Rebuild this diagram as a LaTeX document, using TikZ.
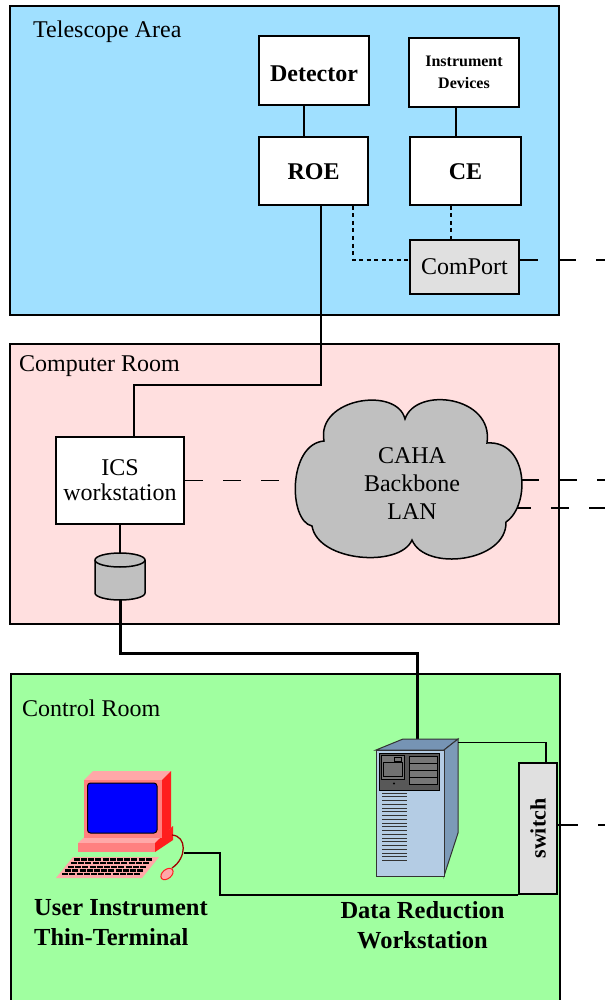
\documentclass[tikz,border=0pt]{standalone}
\usepackage{fontspec}
\setmainfont{Liberation Serif}
\usetikzlibrary{calc}

\definecolor{telblue}{RGB}{160,224,255}
\definecolor{roompink}{RGB}{255,223,223}
\definecolor{ctrlgreen}{RGB}{160,255,160}
\definecolor{portgray}{RGB}{224,224,224}
\definecolor{cloudgray}{RGB}{192,192,192}
\definecolor{srvfront}{RGB}{180,204,228}
\definecolor{srvside}{RGB}{124,154,184}
\definecolor{srvtop}{RGB}{118,148,180}
\definecolor{panel}{RGB}{88,88,88}
\definecolor{panellight}{RGB}{118,118,118}
\definecolor{monfront}{RGB}{255,128,128}
\definecolor{montop}{RGB}{255,168,168}
\definecolor{monside}{RGB}{255,30,30}
\definecolor{scrblue}{RGB}{0,0,255}
\definecolor{cablered}{RGB}{160,0,0}

\tikzset{
  room/.style={draw=black, line width=2pt},
  roomlabel/.style={font=\fontsize{24}{28}\selectfont, anchor=base west, inner sep=0pt},
  unit/.style={draw=black, line width=2pt, fill=white, inner sep=0pt, align=center},
  boldtext/.style={font=\fontsize{24}{28}\selectfont\bfseries},
  plaintext/.style={font=\fontsize{24}{25}\selectfont},
  wire/.style={line width=1.5pt},
  dotwire/.style={line width=1.5pt, dash pattern=on 4pt off 3.5pt},
  lanwire/.style={line width=1.5pt, dash pattern=on 18pt off 20pt},
  trunk/.style={line width=3pt},
  edge/.style={draw=black!80, line width=1pt},
}

\begin{document}
\begin{tikzpicture}[x=1pt,y=-1pt]
\useasboundingbox (0,0) rectangle (605,1000);
\clip (0,0) rectangle (605,1000);

% ---------------- rooms
\draw[room, fill=telblue] (10,6) rectangle (559,315);
\node[roomlabel] (tellabel) at (33,38) {Telescope Area};
\draw[room, fill=roompink] (10,344) rectangle (559,624);
\node[roomlabel] (complabel) at (19,371) {Computer Room};
\draw[room, fill=ctrlgreen] (11,674) rectangle (560,1010);
\node[roomlabel] (ctrllabel) at (22,716) {Control Room};

% ---------------- telescope area
\node[unit, boldtext, text height=22pt, text depth=0pt, minimum width=110pt, minimum height=69pt] (det) at (314,70.5) {Detector};
\node[unit, font=\fontsize{16}{21.5}\selectfont\bfseries, minimum width=110pt, minimum height=69pt] (idev) at (464,72.5) {Instrument\\Devices};
\node[unit, boldtext, text height=18pt, text depth=0pt, minimum width=109pt, minimum height=68pt] (roe) at (313.5,171) {ROE};
\node[unit, boldtext, text height=18pt, text depth=0pt, minimum width=111pt, minimum height=68pt] (ce) at (465.5,171) {CE};
\node[unit, plaintext, fill=portgray, minimum width=109pt, minimum height=54pt] (port) at (464.5,267) {ComPort};

\draw[wire] ([xshift=-10pt]det.south) -- ([xshift=-10pt]det.south |- roe.north);
\draw[wire] ([xshift=-8pt]idev.south) -- ([xshift=-8pt]idev.south |- ce.north);
\draw[dotwire] ([xshift=39.5pt]roe.south) |- ([yshift=7pt]port.west);
\draw[dotwire] ([xshift=-14.5pt]ce.south) -- ([xshift=-14.5pt]ce.south |- port.north);
\coordinate (portout) at (605,260);
\draw[lanwire] ([yshift=7pt]port.east) -- (portout);

% ---------------- computer room
\node[unit, plaintext, minimum width=128pt, minimum height=87pt] (ics) at (120,480.5) {ICS\\workstation};
\draw[wire] ([xshift=7.5pt]roe.south) -- ++(0,179) -| ([xshift=14pt]ics.north);

% network cloud
\coordinate (lanW) at (297,480.5);
\coordinate (lanE1) at (521,480);
\coordinate (lanE2) at (513,508);
\coordinate (lanout1) at (605,480);
\coordinate (lanout2) at (605,508);
\draw[lanwire] (ics.east) -- (lanW);
\draw[lanwire] (lanE1) -- (lanout1);
\draw[lanwire] (lanE2) -- (lanout2);
\filldraw[fill=cloudgray, draw=black, line width=1.5pt] (324,441)
  .. controls (316,398) and (397,386) .. (405,419)
  .. controls (416,386) and (494,396) .. (487,443)
  .. controls (528,440) and (531,505) .. (506,522)
  .. controls (507,562) and (425,572) .. (412,540)
  .. controls (400,568) and (318,562) .. (312,526)
  .. controls (288,521) and (288,444) .. cycle;
\node[font=\fontsize{24}{28}\selectfont, align=center, inner sep=0pt] (lan) at (412,484) {CAHA\\Backbone\\LAN};

% disk
\coordinate (diskT) at (120,553);
\coordinate (diskB) at (120,600);
\draw[wire] (ics.south) -- (diskT);
\filldraw[fill=cloudgray, draw=black, line width=1.5pt] (95,560) -- (95,593)
  arc[start angle=180, end angle=360, x radius=25pt, y radius=7pt] -- (145,560)
  arc[start angle=0, end angle=180, x radius=25pt, y radius=7pt] -- cycle;
\draw[line width=1.5pt] (95,560) arc[start angle=180, end angle=360, x radius=25pt, y radius=7pt];

% ---------------- control room: server cabinet
\coordinate (srvT) at (417,739);
\coordinate (srvTR) at (458,742.5);
\draw[trunk] (diskB) -- ++(0,53) -| (srvT);
\filldraw[fill=srvtop, edge] (376,750) -- (403,739) -- (458,739) -- (444,750) -- cycle;
\filldraw[fill=srvside, edge] (444,750) -- (458,739) -- (458,833) -- (444,876) -- cycle;
\filldraw[fill=srvfront, edge] (376,750) rectangle (444,876);
\filldraw[fill=panel, draw=black, line width=0.8pt] (379,753) rectangle (439,790);
\filldraw[fill=panellight, draw=black, line width=0.6pt] (381,755.5) rectangle (404,779);
\filldraw[fill=panel!85!white, draw=black, line width=0.5pt] (383,762) rectangle (402,776);
\filldraw[fill=panellight, draw=black, line width=0.5pt] (394,757) rectangle (401,761);
\fill[black] (394,783.5) circle (1.2pt);
\foreach \k in {0,...,3}
  \filldraw[fill=panellight, draw=black, line width=0.6pt] (409,{756+\k*7}) rectangle (437,{763+\k*7});
\foreach \k in {0,...,18}
  \draw[line width=1pt, black!80] (382,{793+\k*3.75}) -- (407,{793+\k*3.75});

% switch
\node[draw=black, line width=2pt, fill=portgray, minimum width=38pt, minimum height=131pt, inner sep=0pt,
      font=\fontsize{22}{26}\selectfont\bfseries] (sw) at (538,828.5) {\rotatebox{90}{switch}};
\draw[wire] (srvTR) -| ([xshift=8pt]sw.north);
\coordinate (swout) at (605,825);
\draw[line width=1.5pt, dash pattern=on 20pt off 20pt] ([yshift=3.5pt]sw.east) -- (swout);

% ---------------- control room: user terminal
% stand
\fill[montop] (78,843) -- (85,836.5) -- (167,836.5) -- (155,843) -- cycle;
\fill[monfront] (78,843) rectangle (155,852);
\fill[monside] (155,843) -- (173,826) -- (173,840) -- (155,852) -- cycle;
% monitor
\fill[montop] (84,780) -- (93,771) -- (171,771) -- (162,780) -- cycle;
\fill[monfront] (84,780) rectangle (162,838);
\fill[monside] (162,780) -- (171,771) -- (171,828) -- (162,838) -- cycle;
\filldraw[fill=scrblue, draw=black, line width=1pt, rounded corners=3pt] (87.5,783) rectangle (157,833);
% keyboard
\fill[montop] (73,857) -- (159,857) -- (142,878) -- (56,878) -- cycle;
\foreach \r in {0,...,4} {
  \pgfmathsetmacro\yy{859.6+\r*3.6}
  \pgfmathsetmacro\dx{0.81*(\yy-857)}
  \draw[line width=2.4pt, dash pattern=on 6pt off 1.2pt] ({76-\dx},\yy) -- ({155-\dx},\yy);
}
% mouse and cable
\draw[cablered, line width=1.3pt] (172,835) .. controls (187,836) and (187,858) .. (172,868);
\filldraw[fill=montop, draw=monside, line width=1pt, rotate around={40:(167,874)}] (167,874) ellipse[x radius=7pt, y radius=4.5pt];
\coordinate (termout) at (184,853);
\draw[wire] (termout) -- ++(36,0) |- (sw.south west);

% captions
\node[anchor=west, align=left, inner sep=0pt, font=\fontsize{24.5}{30}\selectfont\bfseries] (termlabel) at (34,923) {User Instrument\\Thin-Terminal};
\node[align=center, inner sep=0pt, font=\fontsize{24.5}{30}\selectfont\bfseries] (srvlabel) at (422.5,925) {Data Reduction\\Workstation};
\end{tikzpicture}
\end{document}
